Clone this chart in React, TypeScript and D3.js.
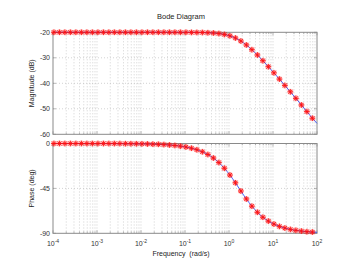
import React, { useEffect, useRef } from "react";
import * as d3 from "d3";

// marker frequencies (rad/s), read from the star positions
const freqs = [
  1.05e-4, 1.4e-4, 1.86e-4, 2.48e-4, 3.31e-4, 4.42e-4, 5.89e-4, 7.85e-4,
  1.05e-3, 1.4e-3, 1.86e-3, 2.48e-3, 3.31e-3, 4.42e-3, 5.89e-3, 7.85e-3,
  1.05e-2, 1.4e-2, 1.86e-2, 2.48e-2, 3.31e-2, 4.42e-2, 5.89e-2, 7.85e-2,
  0.105, 0.14, 0.186, 0.248, 0.331, 0.442, 0.589, 0.785,
  1.05, 1.4, 1.86, 2.48, 3.31, 4.42, 5.89, 7.85,
  10.5, 14.0, 18.6, 24.8, 33.1, 44.2, 58.9, 78.5,
];

const magnitudeDb = [
  -20.0, -20.0, -20.0, -20.0, -20.0, -20.0, -20.0, -20.0,
  -20.0, -20.0, -20.0, -20.0, -20.0, -20.0, -20.0, -20.0,
  -20.0, -20.0, -20.0, -20.0, -20.0, -20.0, -20.01, -20.01,
  -20.02, -20.03, -20.05, -20.09, -20.16, -20.28, -20.49, -20.84,
  -21.4, -22.24, -23.42, -24.96, -26.81, -28.89, -31.14, -33.49,
  -35.9, -38.35, -40.83, -43.35, -45.9, -48.5, -51.1, -53.7,
];

const phaseDeg = [
  -0.0, -0.0, -0.01, -0.01, -0.01, -0.01, -0.02, -0.03,
  -0.04, -0.05, -0.06, -0.08, -0.11, -0.15, -0.2, -0.26,
  -0.35, -0.47, -0.63, -0.84, -1.12, -1.49, -1.98, -2.64,
  -3.52, -4.69, -6.25, -8.31, -11.02, -14.56, -19.11, -24.79,
  -31.63, -39.39, -47.6, -55.62, -62.82, -68.94, -73.9, -77.79,
  -80.78, -83.06, -84.78, -86.08, -87.06, -87.8, -88.35, -88.76,
];

// end points of the blue response line
const edgeFreqs = [1e-4, 100];
const edgeMag = [-20.0, -55.7];
const edgePhase = [0.0, -89.03];

const xDomain = [1e-4, 100];
const xTickExps = [-4, -3, -2, -1, 0, 1, 2];
const magTicks = [-20, -30, -40, -50, -60];
const phaseTicks = [0, -45, -90];

const W = 349;
const H = 263;
const FONT = "'Liberation Sans', Arial, Helvetica, sans-serif";

export default function App() {
  const ref = useRef<SVGSVGElement>(null);

  useEffect(() => {
    const svg = d3.select(ref.current);
    svg.selectAll("*").remove();

    const left = 53;
    const right = 317;

    const x = d3.scaleLog().domain(xDomain).range([left, right]);

    const panels = [
      { top: 32.3, bottom: 134.3, domain: [-60, -20], ticks: magTicks, values: magnitudeDb, edge: edgeMag, label: "Magnitude (dB)" },
      { top: 143.5, bottom: 233.3, domain: [-90, 0], ticks: phaseTicks, values: phaseDeg, edge: edgePhase, label: "Phase (deg)" },
    ];

    // minor + major frequency grid positions
    const gridFreqs: number[] = [];
    for (let e = -4; e < 2; e++) {
      for (let m = 1; m < 10; m++) gridFreqs.push(m * Math.pow(10, e));
    }
    gridFreqs.push(100);

    panels.forEach((p) => {
      const y = d3.scaleLinear().domain(p.domain).range([p.bottom, p.top]);
      const g = svg.append("g");

      g.append("rect")
        .attr("x", left).attr("y", p.top)
        .attr("width", right - left).attr("height", p.bottom - p.top)
        .attr("fill", "#fff");

      // vertical grid
      g.selectAll(".vg")
        .data(gridFreqs.slice(1, -1))
        .enter()
        .append("line")
        .attr("x1", (d) => x(d)).attr("x2", (d) => x(d))
        .attr("y1", p.top).attr("y2", p.bottom)
        .attr("stroke", "#b4b4b4")
        .attr("stroke-width", 0.6)
        .attr("stroke-dasharray", "1,2");

      // horizontal grid
      g.selectAll(".hg")
        .data(p.ticks.slice(1, -1))
        .enter()
        .append("line")
        .attr("x1", left).attr("x2", right)
        .attr("y1", (d) => y(d)).attr("y2", (d) => y(d))
        .attr("stroke", "#b4b4b4")
        .attr("stroke-width", 0.6)
        .attr("stroke-dasharray", "1,2");

      // small ticks on the box
      gridFreqs.forEach((f) => {
        const len = Math.abs(Math.log10(f) - Math.round(Math.log10(f))) < 1e-9 ? 3 : 1.8;
        g.append("line")
          .attr("x1", x(f)).attr("x2", x(f))
          .attr("y1", p.bottom).attr("y2", p.bottom - len)
          .attr("stroke", "#888").attr("stroke-width", 0.6);
        g.append("line")
          .attr("x1", x(f)).attr("x2", x(f))
          .attr("y1", p.top).attr("y2", p.top + len)
          .attr("stroke", "#888").attr("stroke-width", 0.6);
      });
      p.ticks.forEach((t) => {
        g.append("line")
          .attr("x1", left).attr("x2", left + 3)
          .attr("y1", y(t)).attr("y2", y(t))
          .attr("stroke", "#888").attr("stroke-width", 0.6);
        g.append("line")
          .attr("x1", right).attr("x2", right - 3)
          .attr("y1", y(t)).attr("y2", y(t))
          .attr("stroke", "#888").attr("stroke-width", 0.6);
      });

      // box
      g.append("rect")
        .attr("x", left).attr("y", p.top)
        .attr("width", right - left).attr("height", p.bottom - p.top)
        .attr("fill", "none")
        .attr("stroke", "#8a8a8a")
        .attr("stroke-width", 1);

      // y tick labels
      g.selectAll(".yl")
        .data(p.ticks)
        .enter()
        .append("text")
        .attr("x", left - 3)
        .attr("y", (d) => y(d) + 2.5)
        .attr("text-anchor", "end")
        .attr("font-family", FONT)
        .attr("font-size", 7)
        .attr("fill", "#333")
        .text((d) => String(d));

      // y label
      g.append("text")
        .attr("transform", `translate(34,${(p.top + p.bottom) / 2}) rotate(-90)`)
        .attr("text-anchor", "middle")
        .attr("font-family", FONT)
        .attr("font-size", 7)
        .attr("fill", "#222")
        .text(p.label);

      // response line
      const pts: [number, number][] = [[edgeFreqs[0], p.edge[0]]];
      freqs.forEach((f, i) => pts.push([f, p.values[i]]));
      pts.push([edgeFreqs[1], p.edge[1]]);

      const line = d3.line<[number, number]>()
        .x((d) => x(d[0]))
        .y((d) => y(d[1]))
        .curve(d3.curveMonotoneX);

      g.append("path")
        .attr("d", line(pts))
        .attr("fill", "none")
        .attr("stroke", "#3355ff")
        .attr("stroke-width", 0.9);

      // star markers
      const s = 2.8;
      const d2 = s * 0.72;
      const star = `M${-s},0L${s},0M0,${-s}L0,${s}M${-d2},${-d2}L${d2},${d2}M${-d2},${d2}L${d2},${-d2}`;
      const mk = g.selectAll(".mk")
        .data(freqs.map((f, i) => [f, p.values[i]] as [number, number]))
        .enter()
        .append("g")
        .attr("transform", (d) => `translate(${x(d[0])},${y(d[1])})`);
      mk.append("circle")
        .attr("r", 3)
        .attr("fill", "#ff0000")
        .attr("opacity", 0.25);
      mk.append("path")
        .attr("d", star)
        .attr("stroke", "#ff1010")
        .attr("stroke-width", 0.9)
        .attr("fill", "none");
    });

    // x tick labels
    xTickExps.forEach((e) => {
      const t = svg.append("text")
        .attr("x", x(Math.pow(10, e)))
        .attr("y", 246)
        .attr("text-anchor", "middle")
        .attr("font-family", FONT)
        .attr("font-size", 7)
        .attr("fill", "#333");
      t.append("tspan").text("10");
      t.append("tspan")
        .attr("dy", -3.5)
        .attr("font-size", 5)
        .text(String(e));
    });

    svg.append("text")
      .attr("x", 181)
      .attr("y", 256)
      .attr("text-anchor", "middle")
      .attr("font-family", FONT)
      .attr("font-size", 7)
      .attr("fill", "#222")
      .attr("xml:space", "preserve")
      .text("Frequency  (rad/s)");

    svg.append("text")
      .attr("x", 181)
      .attr("y", 19)
      .attr("text-anchor", "middle")
      .attr("font-family", FONT)
      .attr("font-size", 7.5)
      .attr("fill", "#222")
      .text("Bode Diagram");
  }, []);

  return (
    <svg
      ref={ref}
      width={W}
      height={H}
      style={{ position: "absolute", left: 0, top: 0, background: "#fff" }}
    />
  );
}
